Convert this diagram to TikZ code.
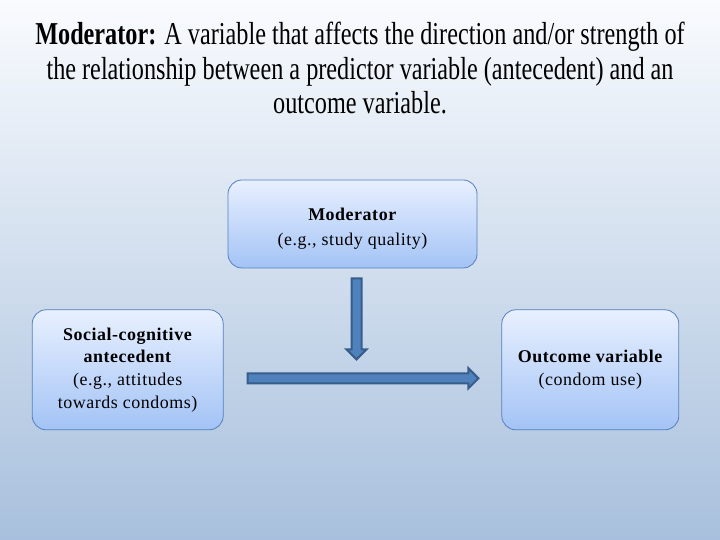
\documentclass[tikz,border=0pt]{standalone}
\usepackage{fontspec}
\setmainfont{Liberation Serif}
\newfontfamily\titlefont[FakeStretch=0.76]{Liberation Serif}
\newfontfamily\boxfont[LetterSpace=3]{Liberation Serif}
\usetikzlibrary{positioning,calc}

\definecolor{bgtop}{RGB}{249,251,254}
\definecolor{bgbottom}{RGB}{168,192,221}
\definecolor{boxtop}{RGB}{232,240,255}
\definecolor{boxbottom}{RGB}{163,195,245}
\definecolor{boxedge}{RGB}{84,128,190}
\definecolor{arrowfill}{RGB}{79,129,189}
\definecolor{arrowedge}{RGB}{56,93,138}

% block arrow from #1 to #2
\newcommand\blockarrow[2]{%
  \coordinate (#1-h) at ($(#2)!10bp!(#1)$);
  \path[linea] ($(#1)!5bp!90:(#2)$) -- ($(#1-h)!5bp!90:(#2)$)
    -- ($(#1-h)!10bp!90:(#2)$) -- (#2) -- ($(#1-h)!10bp!-90:(#2)$)
    -- ($(#1-h)!5bp!-90:(#2)$) -- ($(#1)!5bp!-90:(#2)$) -- cycle;}

\begin{document}
\begin{tikzpicture}[x=1bp,y=1bp]
   \tikzset{main node/.style={rectangle, draw=boxedge, line width=0.8bp,
   		align=center, rounded corners=14bp,
   		top color=boxtop, bottom color=boxbottom,
   		font=\boxfont\fontsize{18}{22.8}\selectfont}, }
   \tikzset{title node/.style={align=center, anchor=north,
   		font=\titlefont\fontsize{32}{34.5}\selectfont}, }
   \tikzset{linea/.style={draw=arrowedge, fill=arrowfill, line width=2bp},}

\shade[top color=bgtop, bottom color=bgbottom] (0,0) rectangle (720,540);

\node[title node] (title) at (360,521) {\textbf{Moderator:} A variable that affects the direction and/or strength of\\
  the relationship between a predictor variable (antecedent) and an\\
  outcome variable.};
\node[main node, minimum width=249bp, minimum height=88bp] (mod) at (352.5,316)
  {\rule{0pt}{22bp}\textbf{Moderator}\\[1.5bp](e.g., study quality)};
\node[main node, minimum width=191bp, minimum height=120bp] (ante)
  [below left=41bp and 4bp of mod]
  {\textbf{Social-cognitive}\\\textbf{antecedent}\\(e.g., attitudes\\towards condoms)};
\node[main node, minimum width=177bp, minimum height=120bp] (outc)
  [below right=41bp and 24bp of mod]
  {\textbf{Outcome variable}\\(condom use)};

\coordinate (vtop) at ($(mod.south)+(4,-10)$);
\coordinate (vtip) at ($(mod.south)+(4,-91)$);
\coordinate (htail) at ($(ante.east)+(24,-8.5)$);
\coordinate (htip) at ($(outc.west)+(-23,-8.5)$);
\foreach \x /\y in {vtop/vtip,htail/htip}
  \blockarrow{\x}{\y};
%
\end{tikzpicture}
\end{document}
